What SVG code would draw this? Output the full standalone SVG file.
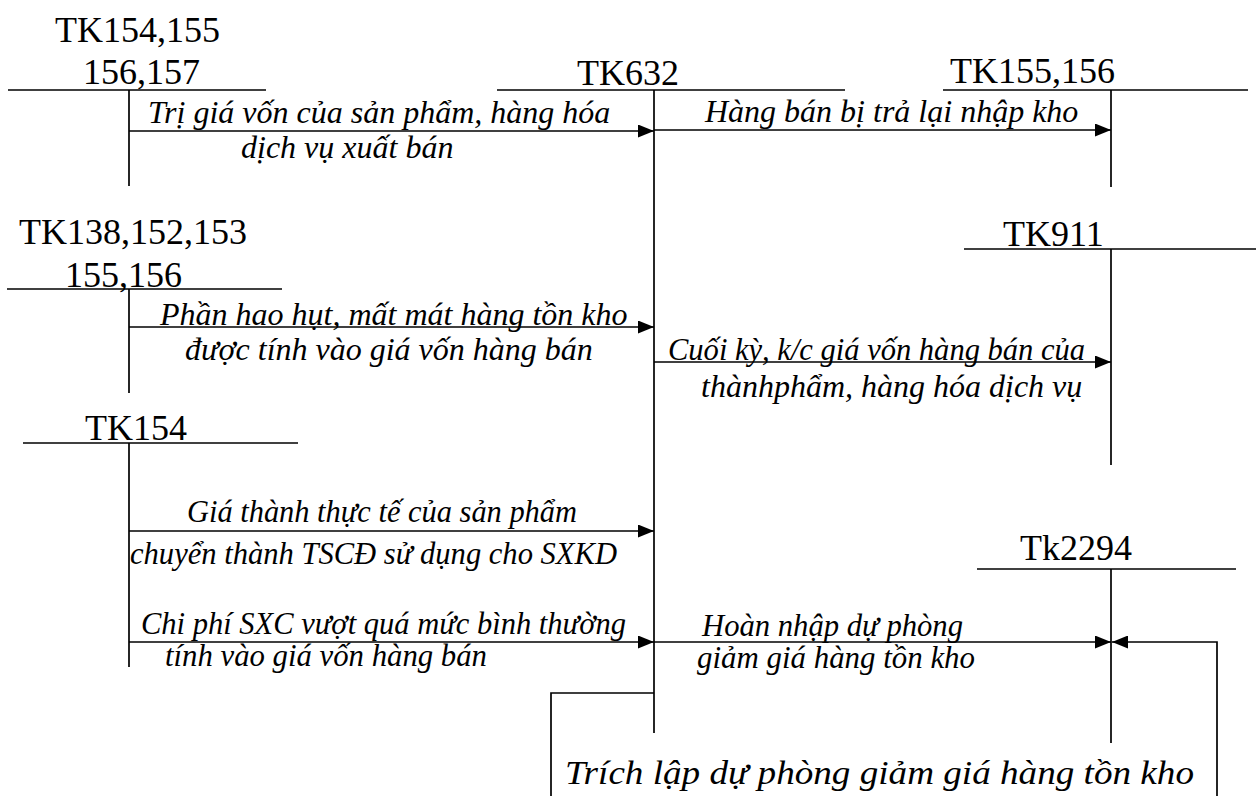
<svg xmlns="http://www.w3.org/2000/svg" width="1256" height="796" viewBox="0 0 1256 796">
<defs>
<style>
.ln{stroke:#000;stroke-width:1.7;fill:none}
.t{font-family:"Liberation Serif","Times New Roman",serif;font-size:36px;fill:#000}
.l{font-family:"Liberation Serif","Times New Roman",serif;font-size:32px;font-style:italic;fill:#000}
.s{font-size:31px}
.ar{stroke:#000;stroke-width:1.7;fill:none;marker-end:url(#ah)}
</style>
<marker id="ah" markerUnits="userSpaceOnUse" markerWidth="16" markerHeight="13" refX="16" refY="6.5" orient="auto">
<path d="M0,0 L16,6.5 L0,13 Z" fill="#000"/>
</marker>
</defs>
<rect width="1256" height="796" fill="#fff"/>

<g id="tk154-155-156-157">
<text class="t" x="55" y="42">TK154,155</text>
<text class="t" x="83" y="84">156,157</text>
<line class="ln" x1="8" y1="90" x2="266" y2="90"/>
<line class="ln" x1="129" y1="90" x2="129" y2="186"/>
</g>

<g id="tk632">
<text class="t" x="577" y="85">TK632</text>
<line class="ln" x1="497" y1="90" x2="845" y2="90"/>
<line class="ln" x1="654" y1="90" x2="654" y2="733"/>
</g>

<g id="tk155-156">
<text class="t" x="950" y="83">TK155,156</text>
<line class="ln" x1="943" y1="90" x2="1248" y2="90"/>
<line class="ln" x1="1111" y1="90" x2="1111" y2="187"/>
</g>

<g id="tk138-152-153-155-156">
<text class="t" x="19" y="244">TK138,152,153</text>
<text class="t" x="65" y="287">155,156</text>
<line class="ln" x1="7" y1="289" x2="282" y2="289"/>
<line class="ln" x1="129" y1="289" x2="129" y2="393"/>
</g>

<g id="tk911">
<text class="t" x="1003" y="246">TK911</text>
<line class="ln" x1="964" y1="249" x2="1256" y2="249"/>
<line class="ln" x1="1111" y1="249" x2="1111" y2="465"/>
</g>

<g id="tk154">
<text class="t" x="85" y="440">TK154</text>
<line class="ln" x1="23" y1="443" x2="298" y2="443"/>
<line class="ln" x1="129" y1="443" x2="129" y2="667"/>
</g>

<g id="tk2294">
<text class="t" x="1020" y="560">Tk2294</text>
<line class="ln" x1="977" y1="569" x2="1236" y2="569"/>
<line class="ln" x1="1111" y1="569" x2="1111" y2="743"/>
</g>

<g id="connectors">
<line class="ar" x1="129" y1="131" x2="654" y2="131"/>
<line class="ar" x1="654" y1="130" x2="1111" y2="130"/>
<line class="ar" x1="129" y1="327" x2="654" y2="327"/>
<line class="ar" x1="654" y1="362" x2="1111" y2="362"/>
<line class="ar" x1="129" y1="531" x2="654" y2="531"/>
<line class="ar" x1="129" y1="642" x2="654" y2="642"/>
<line class="ar" x1="654" y1="642" x2="1111" y2="642"/>
<polyline class="ar" points="654,693 551,693 551,800 1217,800 1217,642 1112,642"/>
</g>

<g id="labels">
<text class="l" x="148" y="123">Trị giá vốn của sản phẩm, hàng hóa</text>
<text class="l" x="241" y="158">dịch vụ xuất bán</text>
<text class="l" x="705" y="122">Hàng bán bị trả lại nhập kho</text>
<text class="l" x="160" y="325">Phần hao hụt, mất mát hàng tồn kho</text>
<text class="l" x="185" y="360">được tính vào giá vốn hàng bán</text>
<text class="l" x="668" y="360" textLength="417" lengthAdjust="spacingAndGlyphs">Cuối kỳ, k/c giá vốn hàng bán của</text>
<text class="l" x="701" y="397">thànhphẩm, hàng hóa dịch vụ</text>
<text class="l s" x="187" y="522" textLength="390" lengthAdjust="spacingAndGlyphs">Giá thành thực tế của sản phẩm</text>
<text class="l s" x="130" y="564" textLength="487" lengthAdjust="spacingAndGlyphs">chuyển thành TSCĐ sử dụng cho SXKD</text>
<text class="l s" x="141" y="634" textLength="485" lengthAdjust="spacingAndGlyphs">Chi phí SXC vượt quá mức bình thường</text>
<text class="l s" x="165" y="666" textLength="322" lengthAdjust="spacingAndGlyphs">tính vào giá vốn hàng bán</text>
<text class="l s" x="702" y="636" textLength="261" lengthAdjust="spacingAndGlyphs">Hoàn nhập dự phòng</text>
<text class="l s" x="697" y="668" textLength="278" lengthAdjust="spacingAndGlyphs">giảm giá hàng tồn kho</text>
<text class="l" x="565" y="784" style="font-size:34px" textLength="629" lengthAdjust="spacingAndGlyphs">Trích lập dự phòng giảm giá hàng tồn kho</text>
</g>
</svg>
